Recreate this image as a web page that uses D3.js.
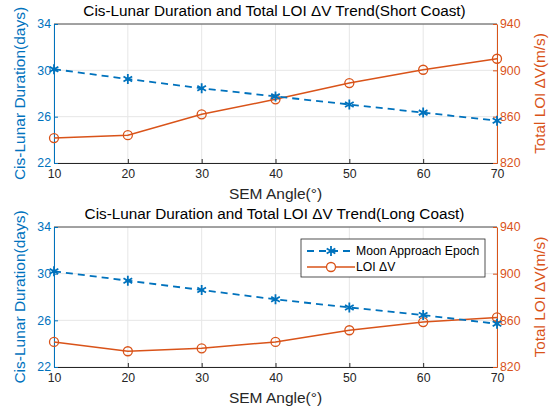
<!DOCTYPE html>
<html>
<head>
<meta charset="utf-8">
<script src="https://cdn.jsdelivr.net/npm/d3@7"></script>
<style>
  body { margin: 0; background: #fff; }
  text { font-family: "Liberation Sans", Arial, sans-serif; }
</style>
</head>
<body>
<div id="chart"></div>
<script>
// SEM angle (deg) on x
var angles = [10, 20, 30, 40, 50, 60, 70];

// short coast case
var shortDays = [30.1, 29.25, 28.45, 27.75, 27.05, 26.35, 25.65];
var shortDv = [841.5, 844, 862, 875, 889, 900.5, 910];

// long coast case
var longDays = [30.2, 29.4, 28.6, 27.8, 27.1, 26.45, 25.7];
var longDv = [841.5, 833.5, 836, 841.5, 851.5, 858.5, 862.5];

var xTicks = [10, 20, 30, 40, 50, 60, 70];
var dayTicks = [22, 26, 30, 34];
var dvTicks = [820, 860, 900, 940];

var titles = [
  "Cis-Lunar Duration and Total LOI \u0394V Trend(Short Coast)",
  "Cis-Lunar Duration and Total LOI \u0394V Trend(Long Coast)"
];
var legendNames = ["Moon Approach Epoch", "LOI \u0394V"];

var blue = "#0072BD", orange = "#D95319";

var W = 555, H = 412;
var svg = d3.select("#chart").append("svg")
  .attr("width", W).attr("height", H);

var left = 54, right = 497;

var x = d3.scaleLinear().domain([10, 70]).range([left, right]);

function panel(top, bottom, days, dv, title, withLegend) {
  var yL = d3.scaleLinear().domain([22, 34]).range([bottom, top]);
  var yR = d3.scaleLinear().domain([820, 940]).range([bottom, top]);
  var g = svg.append("g");

  // grid
  g.append("g").selectAll("line").data(xTicks).enter().append("line")
    .attr("x1", d => x(d)).attr("x2", d => x(d))
    .attr("y1", top).attr("y2", bottom)
    .attr("stroke", "#e6e6e6").attr("stroke-width", 1);
  g.append("g").selectAll("line").data(dayTicks).enter().append("line")
    .attr("x1", left).attr("x2", right)
    .attr("y1", d => yL(d)).attr("y2", d => yL(d))
    .attr("stroke", "#e6e6e6").attr("stroke-width", 1);

  // box top line
  g.append("line").attr("x1", left).attr("x2", right)
    .attr("y1", top).attr("y2", top).attr("stroke", "#262626").attr("stroke-width", 0.8);

  // axes
  var ax = g.append("g").attr("transform", "translate(0," + bottom + ")")
    .call(d3.axisBottom(x).tickValues(xTicks).tickSizeInner(-4).tickSizeOuter(0).tickPadding(6));
  ax.select(".domain").attr("stroke", "#262626");
  ax.selectAll("line").attr("stroke", "#262626");
  ax.selectAll("text").attr("fill", "#262626").style("font-size", "12.3px");

  var axL = g.append("g").attr("transform", "translate(" + left + ",0)")
    .call(d3.axisLeft(yL).tickValues(dayTicks).tickSizeInner(-4).tickSizeOuter(0).tickPadding(3));
  axL.select(".domain").attr("stroke", blue);
  axL.selectAll("line").attr("stroke", blue);
  axL.selectAll("text").attr("fill", blue).style("font-size", "12.3px");

  var axR = g.append("g").attr("transform", "translate(" + right + ",0)")
    .call(d3.axisRight(yR).tickValues(dvTicks).tickSizeInner(-4).tickSizeOuter(0).tickPadding(3));
  axR.select(".domain").attr("stroke", orange);
  axR.selectAll("line").attr("stroke", orange);
  axR.selectAll("text").attr("fill", orange).style("font-size", "12.3px");

  // titles / labels
  g.append("text").attr("x", (left + right) / 2 - 1).attr("y", top - 8)
    .attr("text-anchor", "middle").attr("fill", "#000")
    .style("font-size", "15.3px").text(title);
  g.append("text").attr("x", (left + right) / 2).attr("y", bottom + 36)
    .attr("text-anchor", "middle").attr("fill", "#262626")
    .style("font-size", "15.5px").text("SEM Angle(\u00b0)");
  g.append("text")
    .attr("transform", "translate(25," + (top + bottom) / 2 + ") rotate(-90)")
    .attr("text-anchor", "middle").attr("fill", blue)
    .style("font-size", "15.5px").text("Cis-Lunar Duration(days)");
  g.append("text")
    .attr("transform", "translate(545," + (top + bottom) / 2 + ") rotate(-90)")
    .attr("text-anchor", "middle").attr("fill", orange)
    .style("font-size", "15.3px").text("Total LOI \u0394V(m/s)");

  // orange line
  var lineR = d3.line().x((d, i) => x(angles[i])).y(d => yR(d));
  g.append("path").datum(dv).attr("fill", "none").attr("stroke", orange)
    .attr("stroke-width", 1.5).attr("d", lineR);
  g.append("g").selectAll("circle").data(dv).enter().append("circle")
    .attr("cx", (d, i) => x(angles[i])).attr("cy", d => yR(d)).attr("r", 4.5)
    .attr("fill", "none").attr("stroke", orange).attr("stroke-width", 1.3);

  // blue dashed line
  var lineL = d3.line().x((d, i) => x(angles[i])).y(d => yL(d));
  g.append("path").datum(days).attr("fill", "none").attr("stroke", blue)
    .attr("stroke-width", 1.8).attr("stroke-dasharray", "7,5").attr("d", lineL);
  g.append("g").selectAll("path").data(days).enter().append("path")
    .attr("d", d3.symbol().type(d3.symbolAsterisk).size(70))
    .attr("transform", (d, i) => "translate(" + x(angles[i]) + "," + yL(d) + ")")
    .attr("stroke", blue).attr("stroke-width", 1.8).attr("fill", "none");

  if (withLegend) {
    var lg = g.append("g").attr("transform", "translate(301,239)");
    lg.append("rect").attr("width", 184).attr("height", 38)
      .attr("fill", "#fff").attr("stroke", "#262626").attr("stroke-width", 0.8);
    lg.append("line").attr("x1", 6).attr("x2", 54).attr("y1", 12).attr("y2", 12)
      .attr("stroke", blue).attr("stroke-width", 1.8).attr("stroke-dasharray", "7,5");
    lg.append("path").attr("d", d3.symbol().type(d3.symbolAsterisk).size(70))
      .attr("transform", "translate(30,12)").attr("stroke", blue).attr("stroke-width", 1.8);
    lg.append("text").attr("x", 55).attr("y", 16).attr("fill", "#000")
      .style("font-size", "12.2px").text(legendNames[0]);
    lg.append("line").attr("x1", 6).attr("x2", 54).attr("y1", 28).attr("y2", 28)
      .attr("stroke", orange).attr("stroke-width", 1.5);
    lg.append("circle").attr("cx", 30).attr("cy", 28).attr("r", 4.5)
      .attr("fill", "#fff").attr("stroke", orange).attr("stroke-width", 1.3);
    lg.append("text").attr("x", 55).attr("y", 32).attr("fill", "#000")
      .style("font-size", "12.2px").text(legendNames[1]);
  }
}

panel(24, 163, shortDays, shortDv, titles[0], false);
panel(227, 367, longDays, longDv, titles[1], true);
</script>
</body>
</html>
